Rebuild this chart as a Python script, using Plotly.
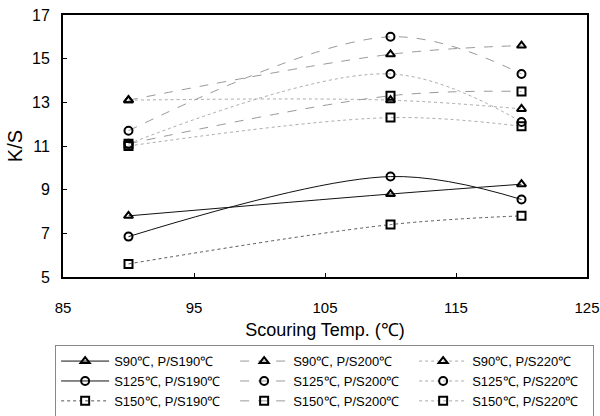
import plotly.graph_objects as go

x_temp = [90, 110, 120]

s90_190 = [7.8, 8.8, 9.25]
s90_200 = [13.1, 15.2, 15.6]
s90_220 = [13.1, 13.1, 12.7]
s125_190 = [6.85, 9.6, 8.55]
s125_200 = [11.7, 16.0, 14.3]
s125_220 = [11.1, 14.3, 12.1]
s150_190 = [5.6, 7.4, 7.8]
s150_200 = [11.1, 13.3, 13.5]
s150_220 = [11.0, 12.3, 11.9]

names = [
    "S90℃, P/S190℃", "S90℃, P/S200℃", "S90℃, P/S220℃",
    "S125℃, P/S190℃", "S125℃, P/S200℃", "S125℃, P/S220℃",
    "S150℃, P/S190℃", "S150℃, P/S200℃", "S150℃, P/S220℃",
]
series = [s90_190, s90_200, s90_220, s125_190, s125_200, s125_220,
          s150_190, s150_200, s150_220]
symbols = ["triangle-up-open"] * 3 + ["circle-open"] * 3 + ["square-open"] * 3
dashes = ["solid", "dash", "dot", "solid", "dash", "dot", "dot", "dash", "dot"]
lcolors = ["#111", "#999", "#aaa", "#111", "#999", "#aaa", "#555", "#999", "#aaa"]

fig = go.Figure()
for name, ys, sym, dash, lc in zip(names, series, symbols, dashes, lcolors):
    fig.add_trace(go.Scatter(
        x=x_temp, y=ys, name=name, mode="lines+markers",
        line=dict(shape="spline", color=lc, width=1, dash=dash),
        marker=dict(symbol=sym, size=8, color="black",
                    line=dict(color="black", width=2)),
    ))

fig.update_layout(
    width=600, height=416,
    margin=dict(l=63, r=13, t=15, b=139, autoexpand=False),
    paper_bgcolor="white", plot_bgcolor="white",
    font=dict(family="Liberation Sans, Arial", color="black"),
    xaxis=dict(
        range=[85, 125], dtick=10, tick0=85,
        showgrid=False, zeroline=False,
        showline=True, linecolor="black", linewidth=2, mirror=True,
        ticks="inside", ticklen=4, tickcolor="black",
        tickfont=dict(size=15), ticklabelstandoff=16,
        title=dict(text="Scouring Temp. (℃)", font=dict(size=18), standoff=8),
    ),
    yaxis=dict(
        range=[5, 17], dtick=2, tick0=5,
        showgrid=False, zeroline=False,
        showline=True, linecolor="black", linewidth=2, mirror=True,
        ticks="inside", ticklen=4, tickcolor="black",
        tickfont=dict(size=16), ticklabelstandoff=8,
        title=dict(text="K/S", font=dict(size=20), standoff=4),
    ),
    legend=dict(
        orientation="h", x=-0.015, xanchor="left", y=-0.26, yanchor="top",
        entrywidth=116, entrywidthmode="pixels",
        bordercolor="#888", borderwidth=1,
        font=dict(size=13), tracegroupgap=0, itemwidth=48,
    ),
)

fig.write_html("out.html")
